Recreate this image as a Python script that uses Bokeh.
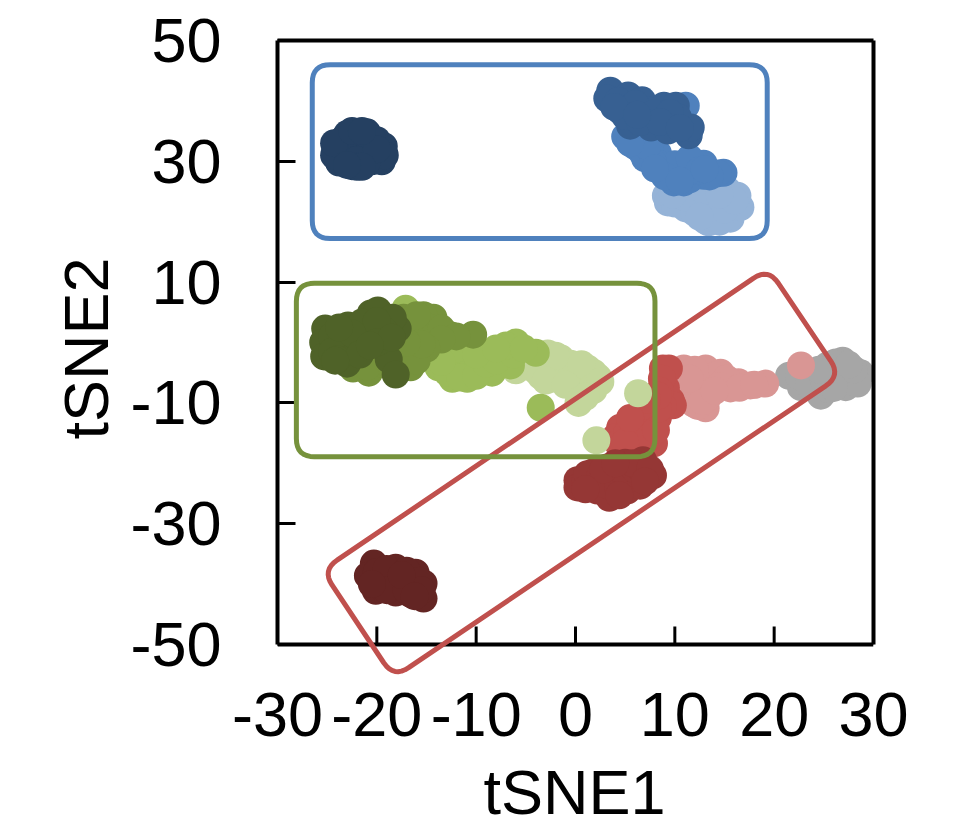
import math
from bokeh.plotting import figure
from bokeh.models import FixedTicker, PolyAnnotation, Range1d, LinearAxis, Title
from bokeh.embed import file_html
from bokeh.resources import INLINE

FONT = "Liberation Sans"
x_ticks = [-30, -20, -10, 0, 10, 20, 30]
x_tick_labels = ["-30", "-20", "-10", "0", "10", "20", "30"]
y_ticks = [-50, -30, -10, 10, 30, 50]
y_tick_labels = ["-50", "-30", "-10", "10", "30", "50"]

gray = [(21.5,-5.5),(22.7,-7.4),(24.7,-8.8),(26.9,-3),(28.7,-5.1),(27.2,-7.4),(25.4,-3.8),(24.4,-5.8),(26.4,-5.1),(28.4,-6.8),(26.2,-3.3),
        (22.5,-5.5),(23.5,-5),(23.5,-7),(25,-6),(25.5,-7.7),(26,-3.5),(27,-4.5),(28,-4.5),(27.5,-3.7),(26,-7.5),(24.5,-4.5)]
pink = [(10.9,-4.3),(13.1,-4.3),(14.6,-5),(16.4,-6.6),(15.6,-7.6),(19.1,-6.8),(13.1,-10.9),(11.9,-10.1),(12.6,-7.4),(10.9,-7.4),(13.9,-6.8),(17.6,-7.1),(22.7,-3.8),(13.3,-9.1),
        (11.5,-5),(12.2,-5.5),(14,-5.5),(15.2,-6),(11.5,-8.5),(13,-8),(14.5,-7.2),(16.5,-7.5),(18,-7),(12.3,-10.5),(12,-4.5),(12.8,-9.7),(11.5,-6),(14,-8)]
red = [(8.8,-4.3),(9.4,-4.3),(9.6,-9.6),(8.3,-12.4),(7.9,-16.7),(4.5,-14.1),(4,-15.7),(6.5,-14.1),(6.2,-16.7),(9.1,-7.5),(7.9,-9.6),(6.8,-11.8),(9.8,-10.4),(4.3,-16.7),
       (8.7,-6),(8.5,-8),(8.8,-10.5),(7.7,-13),(7,-14.8),(5.5,-13.3),(5.2,-15),(7.5,-15.5),(5,-16.5),(8.1,-14.5),(8.3,-11),(8.3,-8.8),(6.8,-10.5),(7.2,-9.5),(5.5,-12.5)]
dark_red = [(0.2,-22.8),(0.2,-24),(2.2,-24.5),(3.4,-25.7),(5.2,-24.5),(6.5,-23.7),(7.8,-22),(6.8,-19.5),(5,-19.9),(1.8,-21.5),(3.5,-22.4),(5.5,-22.4),(3.2,-20.7),
            (1,-23),(1.2,-21.8),(2.5,-22),(3,-23.5),(4.3,-24),(4.5,-21),(6,-21),(6.8,-21.5),(2.8,-21),(5.8,-20),(1,-24.3),(7.5,-21),(4,-20),(4.4,-25.3),(7,-23)]
darkest_red = [(-20.3,-36.6),(-20.9,-38.6),(-20.1,-41.1),(-18.1,-37.3),(-18.1,-41.4),(-16.1,-38.1),(-15.3,-39.9),(-15.3,-42.4),(-16.6,-41.6),(-19.3,-39.4),(-17.3,-39.4),
               (-20,-38),(-19.5,-40.5),(-19,-37.5),(-19,-41),(-17,-37.8),(-17,-41),(-15.8,-39.5),(-15.5,-41),(-17.5,-38.5),(-20.5,-40),(-16.2,-42)]
light_blue = [(9.1,24.3),(9.3,23.2),(11.1,22.2),(13.1,20.2),(13.4,19.9),(15.6,20.5),(16.6,22.4),(16.3,24.3),(14.3,23),(12.3,23.5),(15.3,25.2),(13.6,21.4),
              (10,23),(12,21.5),(14.5,20),(15,22),(11,24),(13,25),(16,23.5),(9.8,24.5),(12.5,20.8),(14.5,24.5)]
mid_blue = [(11.1,39.2),(5.0,34.1),(6.7,31.5),(8.9,28.1),(9.9,26.5),(10.9,26.5),(12.9,27.6),(14.9,28.1),(12.9,29.6),(8.3,31.3),(11.3,29.8),(14.3,28),(7.6,33.4),(6.3,33.4),(11.6,29),
            (7.5,31.5),(8.5,29.5),(10,28),(11.5,27),(13.5,27.5),(12,28.5),(10,29.5),(11.5,30.5),(6,32.5),(7,30.5),(7.8,29.8),(9,27.5),(12.5,28.5),(10.5,26.8),(13,28.7),(7.2,32.5),(5.5,33),(8,28.8)]
dark_blue = [(3.5,41.7),(3.2,40.4),(5.3,40.9),(6.7,40.1),(8.9,39.2),(10.1,39.2),(5.5,35.9),(7.6,35.6),(9.3,35.1),(11.4,34.3),(11.6,35.6),(10.3,37.3),(4.5,38.4),(7.3,38.4),
             (4.3,40),(6,39.5),(8,38),(9.5,38),(5,37.5),(6.5,36.5),(8.5,36.5),(10.5,35.5),(3.9,39),(6.2,37.7)]
navy = [(-24,32),(-24,30.5),(-23.5,33.5),(-23,34.5),(-23,30),(-22.5,29.2),(-22,32),(-22,34.7),(-21.5,29.3),(-21,34.8),(-21,32),(-20.5,30),(-20,31),(-20,33.5),(-19.5,30),(-19.3,32.5),(-19.2,31),(-21,30),
        (-23.5,31),(-22.5,33),(-23,32),(-20.5,33.7),(-22,30.2),(-24.2,31.5),(-23.8,29.8),(-22.5,34.8),(-21.5,34.8),(-20,32),(-24.3,31),(-24.3,33),(-22,29.1),(-21.5,29.1),(-23,29.4),(-22.5,35),(-21.5,35)]
pale_green = [(-2.8,-1.8),(-1.5,-2.6),(-4,-4.6),(-6,-4.6),(1.2,-4.3),(2.3,-5.8),(1.8,-7.9),(0.3,-10),(-2.5,-6),(-0.5,-6.3),(0.8,-7.4),(6.3,-8.4),(2.1,-16.2),
              (-3.5,-3),(-2.3,-4),(-1,-4.8),(0,-4),(0.5,-5.5),(1.5,-6),(1.8,-5),(-1.2,-6),(0.7,-8.5),(-5,-3.5),(-3.5,-5.5),(-0.5,-3.5),(-2,-2.2),(0.6,-3.6),
              (-3,-6.3),(-1,-7),(1.7,-7.5),(2.5,-6.5),(0.5,-9.5),(1,-9)]
bright_green = [(-17.1,5.6),(-12.4,-6),(-13.8,-4.1),(-10.9,-6),(-8.4,-5),(-6.5,-3.8),(-6,0),(-4,-1.7),(-3.5,-10.8),(-10.3,-0.2),(-11.9,-3),(-9.3,-2.5),(-7.3,-1.3),(-9.9,-4.6),(-12.9,-2.5),
                (-12.9,-5),(-11.6,-5.8),(-10,-5.5),(-9,-3.5),(-8,-3),(-6.2,-2),(-7,-0.5),(-5.2,-1),(-12,-1),(-10,-2),(-8,-1),(-13.5,-3.2)]
mid_green = [(-14.3,4.1),(-15.3,4.5),(-12.6,1.2),(-10.3,1.3),(-16.6,-4.1),(-20.8,-5),(-22.4,-4.3),(-17.3,4.1),(-14.3,0.8),(-16.3,-0.2),(-17.6,-3),(-16.6,-1.3),
             (-19.5,-3.5),(-21,-4),(-18.5,-4.2),(-16,2.8),(-14.8,2.5),(-13.5,2.3),(-12,1),(-13.5,0.5),(-15,-1),(-16,-3),(-15.5,-0.3),(-17,0),(-16,4.5)]
dark_green = [(-25.2,2.3),(-25.4,0),(-25.3,-2.3),(-22.9,2.8),(-20.6,4.8),(-19.9,5.3),(-17.9,2.3),(-18.4,4.1),(-23,-3.5),(-22.4,-0.8),(-20.9,1.5),(-19.3,2),(-23.7,0.3),(-18.8,-2.8),(-18.1,-5.3),
              (-24.5,1),(-24.5,-1.5),(-24,-2.8),(-22,0.9),(-21.5,3.3),(-20,3.5),(-21.5,-1),(-22.5,1.5),(-23.8,2.5),(-21.7,-2),(-20,0),(-18.5,0.8),(-24.2,-3),(-20.7,-0.5)]

series = [
    (gray, "#A6A6A6"), (pink, "#D99694"), (red, "#C0504D"), (dark_red, "#953735"), (darkest_red, "#632523"),
    (light_blue, "#95B3D7"), (mid_blue, "#4F81BD"), (dark_blue, "#376092"), (navy, "#254061"),
    (pale_green, "#C3D69B"), (bright_green, "#9BBB59"), (mid_green, "#76923C"), (dark_green, "#4F6228"),
]

red_region = [(-25.5,-37.7),(19.4,12.3),(26.7,-5.5),(-18.3,-55.5)]
blue_region = [(-26.5,46),(19.3,46),(19.3,17.2),(-26.5,17.2)]
green_region = [(-28.1,9.8),(8.0,9.8),(8.0,-18.9),(-28.1,-18.9)]

X_MIN, X_MAX, Y_MIN, Y_MAX = -30, 30, -50, 50
Y_ROOM = -56.62   # the drawing area runs on below -50 so the red outline can cross the axis
FW, FH = 596, 604
TICK_UNITS = 18 / (FH / (Y_MAX - Y_MIN))

p = figure(width=966, height=837, output_backend="svg", toolbar_location=None,
           x_range=Range1d(X_MIN, X_MAX), y_range=Range1d(Y_ROOM, Y_MAX),
           frame_width=FW, frame_height=644,
           min_border_left=277, min_border_right=93, min_border_top=40, min_border_bottom=153,
           outline_line_color=None)
p.grid.visible = False
p.background_fill_color = "white"
p.border_fill_color = "white"

# bottom axis sits under the extended area and carries only the labels
xa = p.xaxis[0]
xa.ticker = FixedTicker(ticks=x_ticks)
xa.major_label_overrides = dict(zip(x_ticks, x_tick_labels))
xa.major_tick_line_color = None
xa.minor_tick_line_color = None
xa.major_tick_in = 0
xa.major_tick_out = 0
xa.axis_line_color = None
xa.major_label_standoff = 8
xa.major_label_text_font = FONT
xa.major_label_text_font_size = "63px"
xa.major_label_text_color = "black"

# the visible x axis line and ticks, at y = -50
p.segment(x_ticks, [Y_MIN] * len(x_ticks), x_ticks, [Y_MIN + TICK_UNITS] * len(x_ticks),
          line_color="black", line_width=3)
p.segment([X_MIN], [Y_MIN], [X_MAX], [Y_MIN], line_color="black", line_width=4)

ya = p.yaxis[0]
ya.ticker = FixedTicker(ticks=y_ticks)
ya.major_label_overrides = dict(zip(y_ticks, y_tick_labels))
ya.major_tick_in = 18
ya.major_tick_out = 0
ya.minor_tick_line_color = None
ya.major_tick_line_color = "black"
ya.major_tick_line_width = 3
ya.axis_line_color = "black"
ya.axis_line_width = 4
ya.bounds = (Y_MIN, Y_MAX)
ya.major_label_standoff = 56
ya.major_label_text_font = FONT
ya.major_label_text_font_size = "63px"
ya.major_label_text_color = "black"

for side, bounds in (("above", (X_MIN, X_MAX)), ("right", (Y_MIN, Y_MAX))):
    frame_edge = LinearAxis(ticker=FixedTicker(ticks=[]), major_label_text_font_size="0px",
                            axis_line_color="black", axis_line_width=4, bounds=bounds,
                            major_tick_line_color=None, minor_tick_line_color=None)
    p.add_layout(frame_edge, side)

p.add_layout(Title(text="tSNE2", align="left", offset=245, standoff=14, text_font=FONT, text_font_size="63px",
                   text_font_style="normal", text_color="black"), "left")
p.add_layout(Title(text="tSNE1", align="left", offset=206, standoff=32, text_font=FONT, text_font_size="63px",
                   text_font_style="normal", text_color="black"), "below")

for pts, col in series:
    p.scatter([a for a, _ in pts], [b for _, b in pts], size=28, color=col, line_color=None)


def rounded(corners, r=18, n=8):
    sx, sy = FW / (X_MAX - X_MIN), FH / (Y_MAX - Y_MIN)
    pix = [(a * sx, b * sy) for a, b in corners]
    xs, ys = [], []
    m = len(pix)
    for i in range(m):
        p0, p1, p2 = pix[i - 1], pix[i], pix[(i + 1) % m]
        d1 = math.hypot(p0[0] - p1[0], p0[1] - p1[1])
        d2 = math.hypot(p2[0] - p1[0], p2[1] - p1[1])
        a = (p1[0] + (p0[0] - p1[0]) * r / d1, p1[1] + (p0[1] - p1[1]) * r / d1)
        b = (p1[0] + (p2[0] - p1[0]) * r / d2, p1[1] + (p2[1] - p1[1]) * r / d2)
        for k in range(n + 1):
            t = k / n
            qx = (1 - t) ** 2 * a[0] + 2 * t * (1 - t) * p1[0] + t ** 2 * b[0]
            qy = (1 - t) ** 2 * a[1] + 2 * t * (1 - t) * p1[1] + t ** 2 * b[1]
            xs.append(qx / sx)
            ys.append(qy / sy)
    return xs, ys


for corners, col in ((red_region, "#C0504D"), (blue_region, "#4F81BD"), (green_region, "#76923C")):
    xs, ys = rounded(corners)
    p.add_layout(PolyAnnotation(xs=xs, ys=ys, fill_alpha=0, line_color=col, line_width=5, line_alpha=1))

open("out.html", "w").write(file_html(p, INLINE))
